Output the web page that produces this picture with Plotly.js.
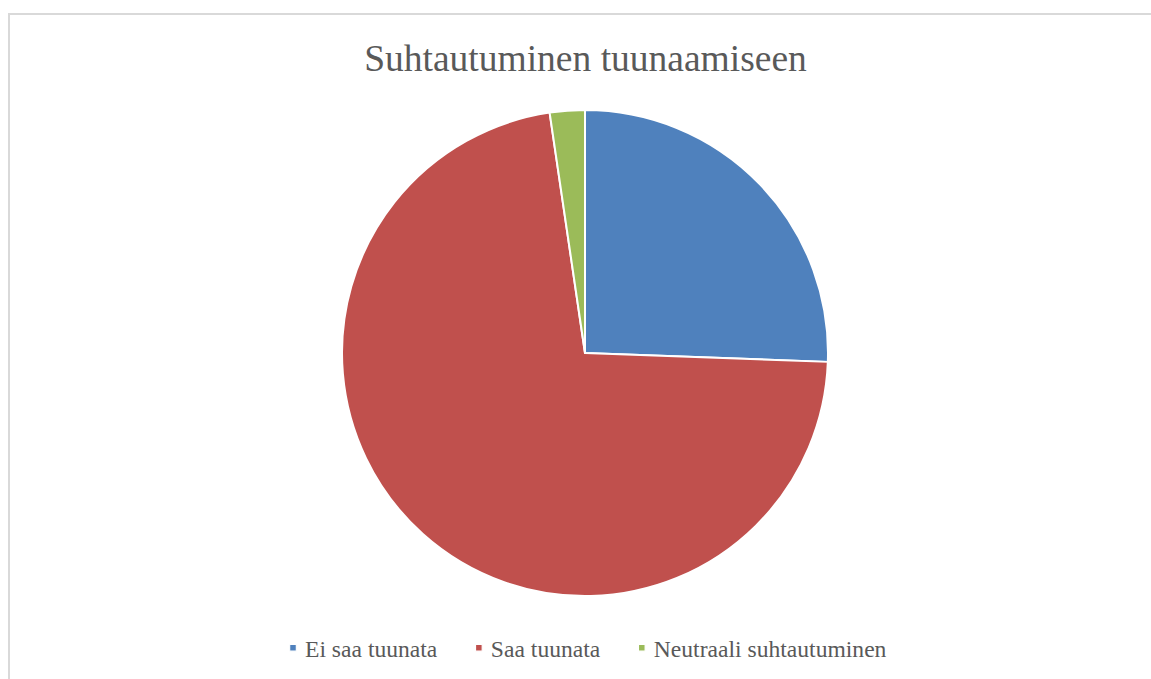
<!DOCTYPE html>
<html>
<head>
<meta charset="utf-8">
<script src="https://cdn.plot.ly/plotly-3.0.1.min.js"></script>
<style>
  html, body { margin: 0; padding: 0; overflow: hidden; background: #fff; width: 1151px; height: 679px; }
  #frame { position: absolute; left: 8px; top: 13px; width: 1160px; height: 680px;
           border-left: 2px solid #d9d9d9; border-top: 2px solid #d9d9d9; }
  #chart { position: absolute; left: 0; top: 0; width: 1141px; height: 664px; }
  #chart .legendtext { font-family: "Liberation Serif", "Times New Roman", serif !important; }
  #chart .legendpoints path { transform: translate(36px, 0px) scale(0.55); }
</style>
</head>
<body>
<div id="frame"><div id="chart"></div></div>
<script>
const categories = ["Ei saa tuunata", "Saa tuunata", "Neutraali suhtautuminen"];
const values = [11, 31, 1];
const colors = ["#4F81BD", "#C0504D", "#9BBB59"];
const chartTitle = "Suhtautuminen tuunaamiseen";

const W = 1141, H = 664;
const cx = 575, cy = 338, r = 243;
const serif = "Liberation Serif";

const data = [{
  type: "pie",
  labels: categories,
  values: values,
  sort: false,
  direction: "clockwise",
  rotation: 0,
  textinfo: "none",
  hoverinfo: "label+value+percent",
  textfont: { family: serif },
  marker: { colors: colors, line: { color: "#ffffff", width: 2 } },
  domain: { x: [(cx - r) / W, (cx + r) / W], y: [1 - (cy + r) / H, 1 - (cy - r) / H] }
}];

const layout = {
  width: W, height: H,
  margin: { l: 0, r: 0, t: 0, b: 0 },
  paper_bgcolor: "#ffffff",
  font: { family: serif, color: "#595959" },
  title: {
    text: chartTitle,
    font: { family: serif, size: 37.5, color: "#595959" },
    x: (cx + 0.5) / W, xanchor: "center", xref: "paper",
    y: 1 - 43 / H, yanchor: "middle", yref: "paper"
  },
  showlegend: true,
  legend: {
    orientation: "h",
    x: (cx - 10.5) / W, xanchor: "center",
    y: 1 - 633 / H, yanchor: "middle",
    itemwidth: 38,
    font: { family: serif, size: 23.6, color: "#595959" },
    itemclick: false
  }
};

Plotly.newPlot("chart", data, layout, { displayModeBar: false, staticPlot: true });
</script>
</body>
</html>
